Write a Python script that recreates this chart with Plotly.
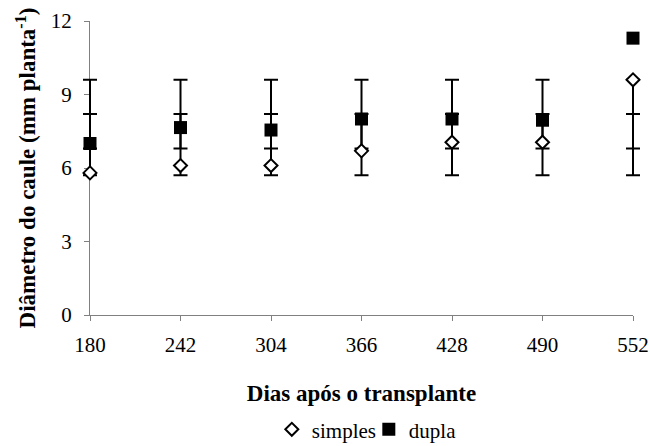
import plotly.graph_objects as go

dias = [180, 242, 304, 366, 428, 490, 552]
simples = [5.8, 6.1, 6.1, 6.7, 7.05, 7.05, 9.6]
dupla = [7.0, 7.65, 7.55, 8.0, 8.0, 7.95, 11.3]

# constant error-bar structure drawn at each date (cap levels)
err_lo = [5.7] * 7
err_mid1 = [6.8] * 7
err_mid2 = [8.2] * 7
err_hi = [9.6] * 7

yticks = [0, 3, 6, 9, 12]

FONT = "Liberation Serif"

# layout geometry (pixels)
W, H = 650, 446
ML, MR, MT, MB = 80, 7, 21, 131
PAD = 10  # extra room on each side so error-bar caps at the edges are not clipped
paper_w = W - ML - MR
plot_w = paper_w - 2 * PAD
xmin, xmax = dias[0], dias[-1]
u_per_px = (xmax - xmin) / plot_w
x2_range = [xmin - PAD * u_per_px, xmax + PAD * u_per_px]

fig = go.Figure()

# invisible trace so that the visible axes subplot is built
fig.add_trace(go.Scatter(
    x=dias, y=simples, xaxis="x", yaxis="y", mode="markers",
    marker=dict(size=1, opacity=0), showlegend=False, hoverinfo="skip",
))

fig.add_trace(go.Scatter(
    x=dias, y=err_mid2, xaxis="x2", yaxis="y", mode="markers",
    marker=dict(size=1, opacity=0),
    showlegend=False, hoverinfo="skip", cliponaxis=False,
    error_y=dict(type="data", symmetric=False,
                 array=[0] * 7,
                 arrayminus=[m - l for m, l in zip(err_mid2, err_lo)],
                 color="black", thickness=2, width=7),
))
fig.add_trace(go.Scatter(
    x=dias, y=err_mid1, xaxis="x2", yaxis="y", mode="markers",
    marker=dict(size=1, opacity=0),
    showlegend=False, hoverinfo="skip", cliponaxis=False,
    error_y=dict(type="data", symmetric=False,
                 array=[h - m for h, m in zip(err_hi, err_mid1)],
                 arrayminus=[0] * 7,
                 color="black", thickness=2, width=7),
))
fig.add_trace(go.Scatter(
    x=dias, y=simples, xaxis="x2", yaxis="y", mode="markers", name="simples",
    cliponaxis=False,
    marker=dict(symbol="diamond", size=10, color="white",
                line=dict(color="black", width=2)),
))
fig.add_trace(go.Scatter(
    x=dias, y=dupla, xaxis="x2", yaxis="y", mode="markers", name="dupla",
    cliponaxis=False,
    marker=dict(symbol="square", size=13, color="black",
                line=dict(color="black", width=0)),
))

fig.update_layout(
    width=W, height=H,
    margin=dict(l=ML, r=MR, t=MT, b=MB, autoexpand=False),
    paper_bgcolor="white", plot_bgcolor="rgba(0,0,0,0)",
    font=dict(family=FONT, size=21, color="black"),
    showlegend=True,
    legend=dict(orientation="h", x=0.513, xanchor="center", y=-0.39, yanchor="middle",
                font=dict(family=FONT, size=21, color="black"),
                itemwidth=30, entrywidth=52, entrywidthmode="pixels",
                tracegroupgap=0, bgcolor="rgba(0,0,0,0)"),
    xaxis=dict(domain=[PAD / paper_w, 1 - PAD / paper_w], anchor="y",
               range=[xmin, xmax], tickvals=dias, ticktext=[str(d) for d in dias],
               showgrid=False, zeroline=False, showline=True, linecolor="#808080",
               linewidth=1, ticks="outside", ticklen=5, tickcolor="#808080",
               ticklabelstandoff=6, fixedrange=True,
               tickfont=dict(family=FONT, size=21, color="black"),
               title=dict(text="<b>Dias após o transplante</b>",
                          font=dict(family=FONT, size=23, color="black"), standoff=28)),
    xaxis2=dict(domain=[0, 1], anchor="y", range=x2_range, visible=False,
                showgrid=False, zeroline=False, fixedrange=True),
    yaxis=dict(anchor="x", range=[0, 12], tickvals=yticks, ticktext=[str(t) for t in yticks],
               showgrid=False, zeroline=False, showline=True, linecolor="#808080",
               linewidth=1, ticks="outside", ticklen=5, tickcolor="#808080",
               ticklabelstandoff=8, fixedrange=True,
               tickfont=dict(family=FONT, size=21, color="black"),
               title=dict(text="<b>Diâmetro do caule (mm planta<sup>-1</sup>)</b>",
                          font=dict(family=FONT, size=23, color="black"), standoff=8)),
)

fig.write_html("out.html")
